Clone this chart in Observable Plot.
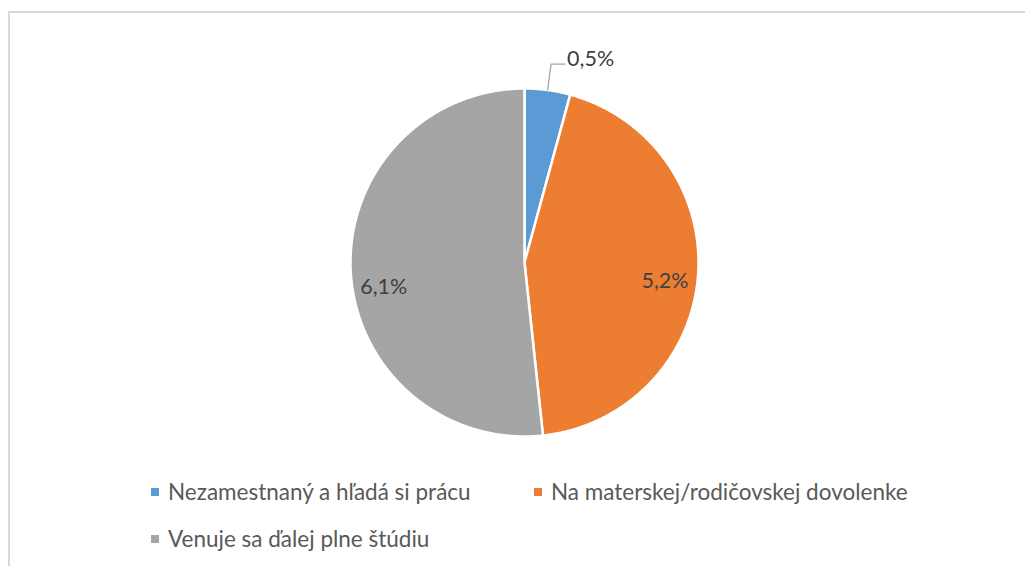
<!DOCTYPE html>
<html>
<head>
<meta charset="utf-8">
<script src="https://cdn.jsdelivr.net/npm/d3@7"></script>
<script src="https://cdn.jsdelivr.net/npm/@observablehq/plot@0.6"></script>
<style>
  html, body { margin: 0; padding: 0; background: #fff; }
  #wrap { position: relative; width: 1025px; height: 566px; overflow: hidden; font-family: Lato, "Open Sans", sans-serif; }
  #frame { position: absolute; left: 8px; top: 11px; width: 1100px; height: 600px; border-left: 2px solid #d9d9d9; border-top: 2px solid #d9d9d9; }
  #chart { position: absolute; left: 0; top: 0; }
  .legend { position: absolute; color: #595959; font-size: 22.5px; white-space: nowrap; line-height: 1; }
  .legend .sw { position: absolute; width: 8px; height: 8px; left: 0; top: 7px; }
  .legend .tx { position: absolute; left: 17px; top: 0; }
</style>
</head>
<body>
<div id="wrap">
  <div id="frame"></div>
  <div id="chart"></div>
</div>
<script>
const categories = ["Nezamestnaný a hľadá si prácu", "Na materskej/rodičovskej dovolenke", "Venuje sa ďalej plne štúdiu"];
const values = [0.5, 5.2, 6.1];
const valueLabels = ["0,5%", "5,2%", "6,1%"];
const colors = ["#5b9bd5", "#ed7d31", "#a5a5a5"];

const data = categories.map((c, i) => ({name: c, value: values[i], label: valueLabels[i]}));
const arcs = d3.pie().sort(null).value(d => d.value)(data);

// polygon points for each slice (unit circle, angle clockwise from top)
const pts = [];
arcs.forEach(a => {
  const name = a.data.name;
  pts.push({name, x: 0, y: 0});
  const n = Math.max(2, Math.ceil((a.endAngle - a.startAngle) / (Math.PI / 360)));
  for (let k = 0; k <= n; k++) {
    const t = a.startAngle + (a.endAngle - a.startAngle) * k / n;
    pts.push({name, x: Math.sin(t), y: Math.cos(t)});
  }
});

const cx = 524, cy = 262, R = 174;
// label placement tweaks (layout only)
const labelShift = [0, 5, 15];

const inside = [];
const outside = [];
const leader = [];
arcs.forEach((a, i) => {
  const mid = (a.startAngle + a.endAngle) / 2;
  const frac = (a.endAngle - a.startAngle) / (2 * Math.PI);
  if (frac < 0.1) {
    const ex = Math.sin(mid), ey = Math.cos(mid);
    const bx = Math.sin(mid) * 1.15, by = Math.cos(mid) * 1.15;
    const hx = bx + 0.08;
    leader.push({x: ex, y: ey, g: a.data.name}, {x: bx, y: by, g: a.data.name}, {x: hx, y: by, g: a.data.name});
    outside.push({x: hx + 0.012, y: by, label: a.data.label});
  } else {
    inside.push({x: Math.sin(mid) * 0.81, y: Math.cos(mid) * 0.81 - labelShift[i] / R, label: a.data.label});
  }
});

const plot = Plot.plot({
  width: 1025,
  height: 470,
  margin: 0,
  x: {domain: [-1, 1], range: [cx - R, cx + R], axis: null},
  y: {domain: [-1, 1], range: [cy + R, cy - R], axis: null},
  color: {domain: categories, range: colors},
  style: {background: "transparent", fontFamily: "Lato, 'Open Sans', sans-serif"},
  marks: [
    Plot.line(pts, {x: "x", y: "y", z: "name", fill: "name", stroke: "white", strokeWidth: 2.5, curve: "linear-closed", strokeLinejoin: "round"}),
    Plot.line(leader, {x: "x", y: "y", z: "g", stroke: "#a6a6a6", strokeWidth: 1.3}),
    Plot.text(inside, {x: "x", y: "y", text: "label", fill: "#404040", fontSize: 21.5, dy: 2}),
    Plot.text(outside, {x: "x", y: "y", text: "label", fill: "#404040", fontSize: 21.5, textAnchor: "start", dy: -5})
  ]
});
document.getElementById("chart").appendChild(plot);

// legend
const legendPos = [[151, 493], [534, 493], [151, 540]];
const wrap = document.getElementById("wrap");
categories.forEach((c, i) => {
  const el = document.createElement("div");
  el.className = "legend";
  el.style.left = legendPos[i][0] + "px";
  el.style.top = (legendPos[i][1] - 12) + "px";
  const sw = document.createElement("span");
  sw.className = "sw";
  sw.style.background = colors[i];
  el.appendChild(sw);
  const tx = document.createElement("span");
  tx.className = "tx";
  tx.textContent = c;
  el.appendChild(tx);
  wrap.appendChild(el);
});
</script>
</body>
</html>
